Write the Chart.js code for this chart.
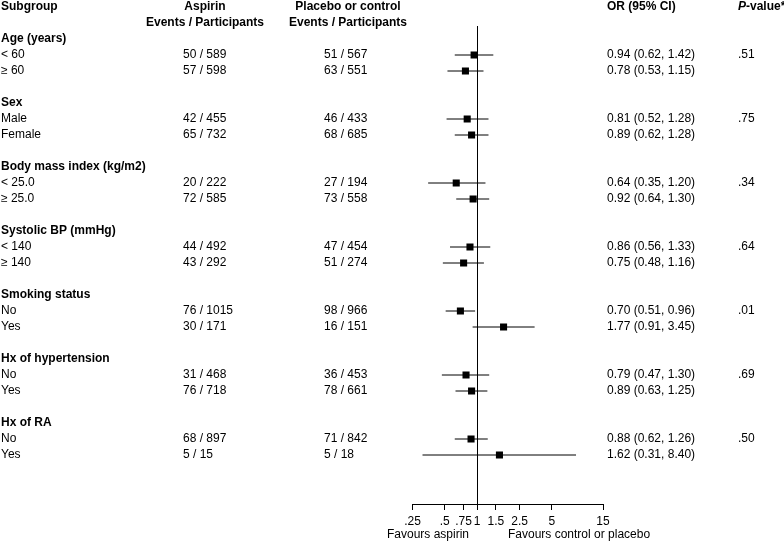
<!DOCTYPE html>
<html>
<head>
<meta charset="utf-8">
<script src="https://cdn.jsdelivr.net/npm/chart.js@4.4.0/dist/chart.umd.min.js"></script>
<style>
  html, body { margin: 0; padding: 0; background: #fff; }
</style>
</head>
<body>
<canvas id="forest" width="784" height="545"></canvas>
<script>
// subgroup labels, 2 rows per group
const groups = ['Age (years)', 'Sex', 'Body mass index (kg/m2)', 'Systolic BP (mmHg)',
  'Smoking status', 'Hx of hypertension', 'Hx of RA'];
const subgroups = ['< 60', '≥ 60', 'Male', 'Female', '< 25.0', '≥ 25.0', '< 140', '≥ 140',
  'No', 'Yes', 'No', 'Yes', 'No', 'Yes'];

const aspirinEvents = [50, 57, 42, 65, 20, 72, 44, 43, 76, 30, 31, 76, 68, 5];
const aspirinTotal = [589, 598, 455, 732, 222, 585, 492, 292, 1015, 171, 468, 718, 897, 15];
const controlEvents = [51, 63, 46, 68, 27, 73, 47, 51, 98, 16, 36, 78, 71, 5];
const controlTotal = [567, 551, 433, 685, 194, 558, 454, 274, 966, 151, 453, 661, 842, 18];

const oddsRatio = [0.94, 0.78, 0.81, 0.89, 0.64, 0.92, 0.86, 0.75, 0.70, 1.77, 0.79, 0.89, 0.88, 1.62];
const ciLower = [0.62, 0.53, 0.52, 0.62, 0.35, 0.64, 0.56, 0.48, 0.51, 0.91, 0.47, 0.63, 0.62, 0.31];
const ciUpper = [1.42, 1.15, 1.28, 1.28, 1.20, 1.30, 1.33, 1.16, 0.96, 3.45, 1.30, 1.25, 1.26, 8.40];
const pValues = ['.51', '.75', '.34', '.64', '.01', '.69', '.50'];

const xTicks = [0.25, 0.5, 0.75, 1, 1.5, 2.5, 5, 15];
const xTickLabels = ['.25', '.5', '.75', '1', '1.5', '2.5', '5', '15'];

// row index: group header at 4*g, its two subgroups below it
const rowOf = (k) => Math.floor(k / 2) * 4 + 1 + (k % 2);

const FONT = "'Liberation Sans', Arial, sans-serif";

const ciSets = oddsRatio.map((_, k) => ({
  type: 'line',
  data: [{ x: ciLower[k], y: rowOf(k) }, { x: ciUpper[k], y: rowOf(k) }],
  borderColor: '#000',
  borderWidth: 1,
  pointRadius: 0,
  fill: false
}));

const orSet = {
  type: 'scatter',
  data: oddsRatio.map((v, k) => ({ x: v, y: rowOf(k) })),
  pointStyle: 'rect',
  pointRadius: 5,
  backgroundColor: '#000',
  borderWidth: 0
};

const fmt = (v) => v.toFixed(2);

const tablePlugin = {
  id: 'table',
  beforeDatasetsDraw(chart) {
    const { ctx, chartArea, scales } = chart;
    const x1 = Math.round(scales.x.getPixelForValue(1)) + 0.5;
    ctx.save();
    ctx.strokeStyle = '#000';
    ctx.lineWidth = 1;
    ctx.beginPath();
    ctx.moveTo(x1, chartArea.top);
    ctx.lineTo(x1, chartArea.bottom);
    ctx.stroke();
    ctx.restore();
  },
  afterDraw(chart) {
    const { ctx, scales } = chart;
    const y = (r) => scales.y.getPixelForValue(r);
    const bold = 'bold 12px ' + FONT;
    const normal = '12px ' + FONT;
    ctx.save();
    ctx.fillStyle = '#000';
    ctx.textBaseline = 'middle';

    // column headers
    ctx.font = bold;
    ctx.textAlign = 'left';
    ctx.fillText('Subgroup', 1, y(-2));
    ctx.fillText('OR (95% CI)', 607, y(-2));
    ctx.textAlign = 'center';
    ctx.fillText('Aspirin', 205, y(-2));
    ctx.fillText('Events / Participants', 205, y(-1));
    ctx.fillText('Placebo or control', 348, y(-2));
    ctx.fillText('Events / Participants', 348, y(-1));
    ctx.textAlign = 'left';
    ctx.font = 'italic bold 12px ' + FONT;
    ctx.fillText('P', 738, y(-2));
    const pw = ctx.measureText('P').width;
    ctx.font = bold;
    ctx.fillText('-value*', 738 + pw, y(-2));

    groups.forEach((g, i) => {
      ctx.font = bold;
      ctx.fillText(g, 1, y(i * 4));
    });

    ctx.font = normal;
    subgroups.forEach((s, k) => {
      const r = y(rowOf(k));
      ctx.fillText(s, 1, r);
      ctx.fillText(aspirinEvents[k] + ' / ' + aspirinTotal[k], 183, r);
      ctx.fillText(controlEvents[k] + ' / ' + controlTotal[k], 324, r);
      ctx.fillText(fmt(oddsRatio[k]) + ' (' + fmt(ciLower[k]) + ', ' + fmt(ciUpper[k]) + ')', 607, r);
      if (k % 2 === 0) ctx.fillText(pValues[k / 2], 738, r);
    });

    // footer under the axis
    const x1 = scales.x.getPixelForValue(1);
    ctx.textAlign = 'right';
    ctx.fillText('Favours aspirin', x1 - 8, 535);
    ctx.textAlign = 'left';
    ctx.fillText('Favours control or placebo', x1 + 31, 535);
    ctx.restore();
  }
};

new Chart(document.getElementById('forest'), {
  data: { datasets: [...ciSets, orSet] },
  options: {
    responsive: false,
    animation: false,
    devicePixelRatio: 1,
    layout: { padding: { top: 26, left: 412.5, right: 181, bottom: 0 } },
    plugins: { legend: { display: false }, tooltip: { enabled: false } },
    scales: {
      x: {
        type: 'logarithmic',
        min: 0.25,
        max: 15,
        afterBuildTicks: (scale) => { scale.ticks = xTicks.map((v) => ({ value: v })); },
        afterFit: (scale) => { scale.height = 41; },
        ticks: {
          autoSkip: false,
          maxRotation: 0,
          padding: 4,
          color: '#000',
          font: { family: FONT, size: 12 },
          callback: (v) => xTickLabels[xTicks.indexOf(v)]
        },
        grid: { drawOnChartArea: false, drawTicks: true, tickLength: 6, color: '#000', lineWidth: 1 },
        border: { display: true, color: '#000', width: 1 }
      },
      y: {
        type: 'linear',
        display: false,
        reverse: true,
        min: -0.8125,
        max: 29.0625
      }
    }
  },
  plugins: [tablePlugin]
});
</script>
</body>
</html>
